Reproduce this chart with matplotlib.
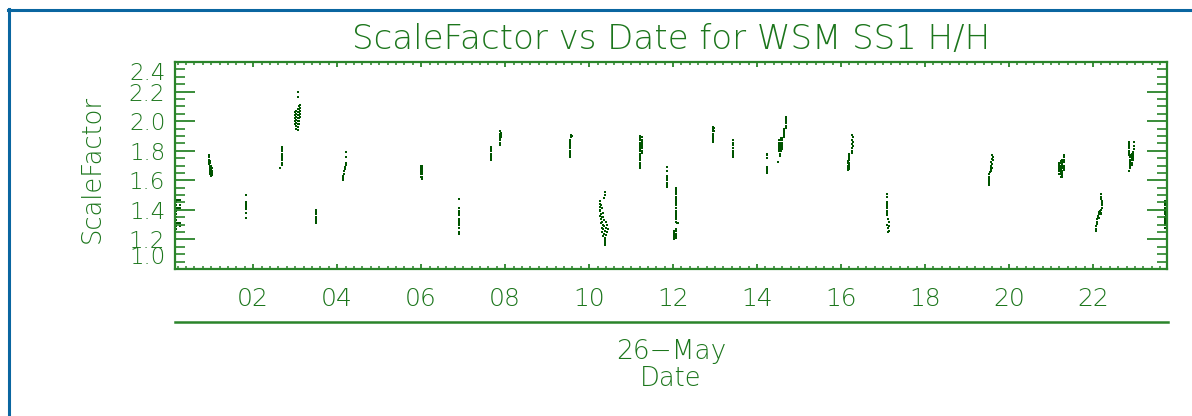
import matplotlib
matplotlib.use("Agg")
import matplotlib.pyplot as plt
from matplotlib.lines import Line2D
from matplotlib.ticker import MultipleLocator

# ---------------- data (hour of 26-May, ScaleFactor) ----------------
pass00_h = [0.16]*11 + [0.20]*3 + [0.25]*5
pass00_v = [1.47, 1.45, 1.43, 1.41, 1.39, 1.37, 1.35, 1.33, 1.31, 1.29, 1.27,
            1.47, 1.41, 1.31, 1.47, 1.43, 1.41, 1.31, 1.29]

pass01_h = [0.96]*5 + [0.98]*7 + [1.00]*6 + [1.02]*4
pass01_v = [1.77, 1.755, 1.74, 1.725, 1.71,
            1.73, 1.715, 1.70, 1.685, 1.67, 1.655, 1.64,
            1.70, 1.685, 1.67, 1.655, 1.64, 1.63,
            1.68, 1.665, 1.65, 1.635]

pass02_h = [1.83]*9
pass02_v = [1.50, 1.455, 1.445, 1.435, 1.425, 1.415, 1.405, 1.376, 1.342]

pass03_h = [2.68]*9 + [2.63]
pass03_v = [1.825, 1.81, 1.795, 1.78, 1.765, 1.75, 1.735, 1.72, 1.705, 1.68]

pass04_h = [3.07, 3.07] + [3.00]*5 + [3.03]*7 + [3.06]*8 + [3.09]*7 + [3.12]*5
pass04_v = [2.20, 2.16,
            2.06, 2.04, 2.02, 2.00, 1.98,
            2.07, 2.05, 2.03, 2.01, 1.99, 1.97, 1.95,
            2.08, 2.06, 2.04, 2.02, 2.00, 1.98, 1.96, 1.94,
            2.10, 2.08, 2.06, 2.04, 2.02, 2.00, 1.98,
            2.11, 2.09, 2.07, 2.05, 2.03]

pass05_h = [3.50]*7
pass05_v = [1.40, 1.385, 1.37, 1.355, 1.34, 1.325, 1.31]

pass06_h = [4.22, 4.22, 4.21, 4.20, 4.19, 4.18, 4.16, 4.16, 4.15, 4.15, 4.15]
pass06_v = [1.79, 1.76, 1.72, 1.705, 1.69, 1.675, 1.66, 1.645, 1.63, 1.615, 1.60]

pass07_h = [6.00]*6 + [6.03]*7
pass07_v = [1.70, 1.685, 1.67, 1.655, 1.64, 1.625,
            1.70, 1.685, 1.67, 1.655, 1.64, 1.625, 1.61]

pass08_h = [6.90]*12
pass08_v = [1.476, 1.41, 1.395, 1.38, 1.365, 1.34, 1.325, 1.31, 1.295, 1.28,
            1.25, 1.235]

pass09_h = [7.67]*7
pass09_v = [1.825, 1.81, 1.795, 1.78, 1.765, 1.75, 1.735]

pass10_h = [7.87]*7 + [7.91]*3
pass10_v = [1.93, 1.915, 1.90, 1.885, 1.87, 1.855, 1.84, 1.92, 1.905, 1.89]

pass11_h = [9.57, 9.59, 9.57] + [9.55]*9
pass11_v = [1.905, 1.90, 1.89, 1.875, 1.86, 1.845, 1.83, 1.815, 1.80, 1.785,
            1.77, 1.76]

pass12_h = [10.38, 10.38, 10.36, 10.25, 10.27, 10.25, 10.28, 10.25, 10.30,
            10.27, 10.25, 10.32, 10.28, 10.26, 10.33, 10.30, 10.28, 10.35,
            10.31, 10.40, 10.28, 10.33, 10.42, 10.36, 10.30, 10.40, 10.34,
            10.44, 10.38, 10.31, 10.42, 10.36, 10.40, 10.34, 10.38, 10.37,
            10.39, 10.38, 10.38, 10.38]
pass12_v = [1.52, 1.50, 1.48, 1.46, 1.46, 1.44, 1.43, 1.42, 1.41, 1.40, 1.39,
            1.38, 1.37, 1.36, 1.355, 1.35, 1.34, 1.33, 1.32, 1.32, 1.31, 1.30,
            1.30, 1.29, 1.28, 1.28, 1.27, 1.27, 1.26, 1.25, 1.25, 1.24, 1.23,
            1.22, 1.21, 1.20, 1.19, 1.18, 1.17, 1.16]

pass13_h = [11.22]*10 + [11.25]*8 + [11.20]*6
pass13_v = [1.90, 1.885, 1.87, 1.855, 1.84, 1.825, 1.81, 1.795, 1.78, 1.765,
            1.89, 1.875, 1.86, 1.845, 1.83, 1.815, 1.80, 1.785,
            1.75, 1.735, 1.72, 1.705, 1.69, 1.68]

pass14_h = [11.86]*8
pass14_v = [1.69, 1.665, 1.63, 1.615, 1.60, 1.585, 1.57, 1.555]

pass15_h = [12.07]*16 + [12.09, 12.11] + [12.06]*5 + [12.03]*5
pass15_v = [1.55, 1.535, 1.52, 1.505, 1.49, 1.475, 1.46, 1.445, 1.43,
            1.41, 1.395, 1.38, 1.365, 1.35, 1.335, 1.32, 1.31, 1.31,
            1.27, 1.255, 1.24, 1.225, 1.21, 1.26, 1.245, 1.23, 1.215, 1.205]

pass16_h = [12.95, 12.97, 12.95, 12.97, 12.95, 12.95, 12.95, 12.95, 12.95, 12.95]
pass16_v = [1.96, 1.955, 1.945, 1.935, 1.93, 1.915, 1.90, 1.885, 1.87, 1.86]

pass17_h = [13.43]*8
pass17_v = [1.87, 1.855, 1.84, 1.82, 1.80, 1.785, 1.77, 1.76]

pass18_h = [14.24]*7
pass18_v = [1.78, 1.77, 1.75, 1.69, 1.675, 1.66, 1.65]

pass19_h = ([14.68]*6 + [14.64]*5 + [14.56]*7 + [14.59]*6 + [14.53]*6
            + [14.55, 14.55, 14.50])
pass19_v = [2.03, 2.015, 2.00, 1.985, 1.97, 1.955,
            1.95, 1.935, 1.92, 1.905, 1.89,
            1.885, 1.87, 1.855, 1.84, 1.825, 1.81, 1.795,
            1.885, 1.87, 1.855, 1.84, 1.825, 1.81,
            1.87, 1.855, 1.84, 1.825, 1.81, 1.795,
            1.78, 1.765, 1.725]

pass20_h = ([16.26, 16.28, 16.26, 16.28, 16.26, 16.28, 16.26, 16.26, 16.25]
            + [16.20]*8 + [16.17]*5)
pass20_v = [1.905, 1.89, 1.875, 1.86, 1.845, 1.83, 1.815, 1.80, 1.785,
            1.78, 1.765, 1.75, 1.735, 1.72, 1.705, 1.69, 1.675,
            1.73, 1.715, 1.70, 1.685, 1.67]

pass21_h = [17.10, 17.10, 17.10, 17.10, 17.10, 17.10, 17.10, 17.10, 17.10,
            17.12, 17.13, 17.10, 17.13, 17.11, 17.13, 17.12]
pass21_v = [1.51, 1.485, 1.455, 1.44, 1.425, 1.41, 1.395, 1.38, 1.365, 1.34,
            1.315, 1.30, 1.29, 1.275, 1.26, 1.25]

pass22_h = [19.60, 19.62, 19.60, 19.62, 19.58, 19.60, 19.56, 19.58, 19.56,
            19.60, 19.56, 19.58, 19.54, 19.53, 19.53, 19.53, 19.53, 19.53, 19.53]
pass22_v = [1.77, 1.76, 1.745, 1.735, 1.725, 1.71, 1.70, 1.695, 1.685, 1.68,
            1.67, 1.665, 1.655, 1.64, 1.625, 1.61, 1.595, 1.58, 1.57]

pass23_h = [21.19]*6 + [21.23]*8 + [21.27]*9 + [21.30]*7
pass23_v = [1.72, 1.705, 1.69, 1.675, 1.66, 1.645,
            1.73, 1.715, 1.70, 1.685, 1.67, 1.655, 1.64, 1.625,
            1.74, 1.725, 1.71, 1.695, 1.68, 1.665, 1.65, 1.635, 1.62,
            1.77, 1.755, 1.74, 1.725, 1.70, 1.685, 1.67]

pass24_h = [22.20, 22.20, 22.20, 22.22, 22.22, 22.22, 22.22, 22.20, 22.18,
            22.16, 22.15, 22.17, 22.19, 22.19, 22.14, 22.12, 22.12, 22.15,
            22.10, 22.10, 22.10, 22.08, 22.08, 22.08]
pass24_v = [1.51, 1.49, 1.475, 1.46, 1.445, 1.43, 1.415, 1.40, 1.40, 1.395,
            1.385, 1.385, 1.38, 1.37, 1.37, 1.36, 1.35, 1.345, 1.335, 1.32,
            1.305, 1.29, 1.27, 1.255]

pass25_h = ([22.85]*7 + [22.98, 22.98, 22.98, 22.96] + [22.88]*7 + [22.92]*6
            + [22.95]*4 + [22.86])
pass25_v = [1.86, 1.845, 1.83, 1.815, 1.80, 1.785, 1.77,
            1.86, 1.835, 1.81, 1.79,
            1.77, 1.755, 1.74, 1.725, 1.71, 1.695, 1.68,
            1.78, 1.765, 1.75, 1.735, 1.72, 1.705,
            1.78, 1.765, 1.75, 1.735, 1.66]

pass26_h = [23.72]*13 + [23.74]*4
pass26_v = [1.46, 1.445, 1.43, 1.415, 1.40, 1.385, 1.37, 1.355, 1.34, 1.325,
            1.31, 1.295, 1.28, 1.44, 1.40, 1.36, 1.32]

passes = [
    (pass00_h, pass00_v), (pass01_h, pass01_v), (pass02_h, pass02_v),
    (pass03_h, pass03_v), (pass04_h, pass04_v), (pass05_h, pass05_v),
    (pass06_h, pass06_v), (pass07_h, pass07_v), (pass08_h, pass08_v),
    (pass09_h, pass09_v), (pass10_h, pass10_v), (pass11_h, pass11_v),
    (pass12_h, pass12_v), (pass13_h, pass13_v), (pass14_h, pass14_v),
    (pass15_h, pass15_v), (pass16_h, pass16_v), (pass17_h, pass17_v),
    (pass18_h, pass18_v), (pass19_h, pass19_v), (pass20_h, pass20_v),
    (pass21_h, pass21_v), (pass22_h, pass22_v), (pass23_h, pass23_v),
    (pass24_h, pass24_v), (pass25_h, pass25_v), (pass26_h, pass26_v),
]

x_ticks = [2, 4, 6, 8, 10, 12, 14, 16, 18, 20, 22]
x_ticklabels = ["02", "04", "06", "08", "10", "12", "14", "16", "18", "20", "22"]
y_ticks = [1.0, 1.2, 1.4, 1.6, 1.8, 2.0, 2.2, 2.4]
y_ticklabels = ["1.0", "1.2", "1.4", "1.6", "1.8", "2.0", "2.2", "2.4"]

title = "ScaleFactor vs Date for WSM SS1 H/H"
ylabel = "ScaleFactor"
date_label = "26\u2212May"
xlabel = "Date"

# ---------------- styling ----------------
W, H = 1192, 416
GREEN_AX = "#2a842a"
GREEN_TXT = "#1c761c"
GREEN_DATA = "#005400"
BLUE = "#0a66a0"
FONT = "DejaVu Sans"

fig = plt.figure(figsize=(W / 100, H / 100), dpi=100)
fig.patch.set_facecolor("white")

left, right, top, bottom = 175, 1167, 62, 269
ax = fig.add_axes([left / W, 1 - bottom / H, (right - left) / W, (bottom - top) / H])

for h, v in passes:
    ax.scatter(h, v, marker="s", s=4.3, linewidths=0, color=GREEN_DATA)

ax.set_xlim(0.14, 23.76)
ax.set_ylim(1.0, 2.4)

for sp in ax.spines.values():
    sp.set_color(GREEN_AX)
    sp.set_linewidth(1.6)

ax.set_xticks(x_ticks)
ax.set_xticklabels(x_ticklabels)
ax.set_yticks(y_ticks)
ax.set_yticklabels(y_ticklabels)
ax.xaxis.set_minor_locator(MultipleLocator(0.2))
ax.yaxis.set_minor_locator(MultipleLocator(0.05))

ax.tick_params(axis="both", which="both", direction="in", top=True, right=True,
               colors=GREEN_AX)
ax.tick_params(axis="y", which="major", length=14.4, width=1.3, pad=7,
               labelsize=16.5, labelcolor=GREEN_TXT)
ax.tick_params(axis="y", which="minor", length=7.2, width=1.2)
ax.tick_params(axis="x", which="major", length=3.8, width=1.3, pad=13,
               labelsize=18, labelcolor=GREEN_TXT)
ax.tick_params(axis="x", which="minor", length=1.9, width=1.1)

for lab in ax.get_xticklabels() + ax.get_yticklabels():
    lab.set_fontfamily(FONT)
    lab.set_fontweight("light")

ylabs = ax.get_yticklabels()
ylabs[0].set_va("bottom")
ylabs[-1].set_va("top")

# secondary date axis line and labels
ax.add_line(Line2D([0, 1.001], [-(322 - bottom) / (bottom - top)] * 2,
                   transform=ax.transAxes, color=GREEN_AX, lw=1.8, clip_on=False))

cx = (left + right) / 2 / W
fig.text(cx, 1 - 40 / H, title, ha="center", va="center", fontsize=24.5,
         color=GREEN_TXT, family=FONT, fontweight="light")
fig.text(92 / W, 1 - 169 / H, ylabel, ha="center", va="center", rotation=90,
         fontsize=18.5, color=GREEN_TXT, family=FONT, fontweight="light")
fig.text(cx, 1 - 351 / H, date_label, ha="center", va="center", fontsize=19,
         color=GREEN_TXT, family=FONT, fontweight="light")
fig.text(cx, 1 - 379 / H, xlabel, ha="center", va="center", fontsize=18.5,
         color=GREEN_TXT, family=FONT, fontweight="light")

# blue frame on top and left edges
fig.add_artist(Line2D([9 / W, 9 / W], [0, 1 - 9 / H], transform=fig.transFigure,
                      color=BLUE, lw=2.2))
fig.add_artist(Line2D([8 / W, 1], [1 - 10 / H, 1 - 10 / H], transform=fig.transFigure,
                      color=BLUE, lw=2.2))

fig.savefig("out.png", dpi=100, facecolor="white")
